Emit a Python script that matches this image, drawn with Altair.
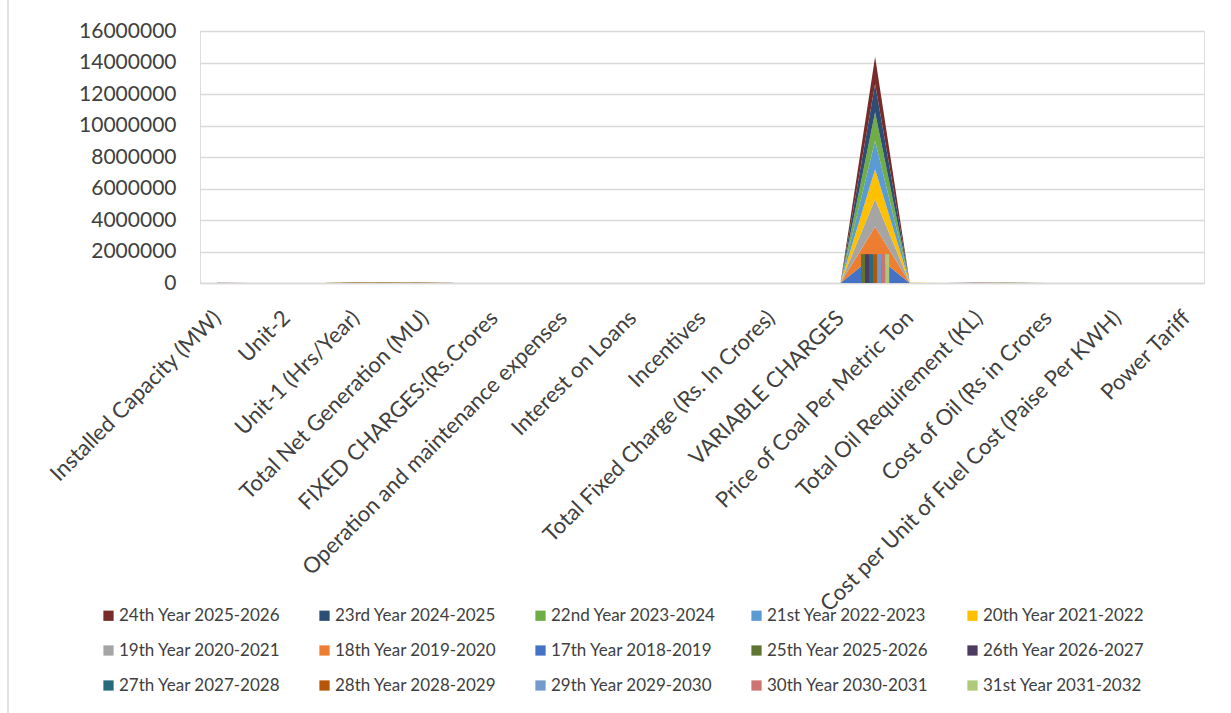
import altair as alt
import pandas as pd

# ---- categories (x axis); only every other label is printed, as in the reference
categories = [
    "Installed Capacity (MW)", "Unit-1", "Unit-2", "Operating Hours",
    "Unit-1 (Hrs/Year)", "Unit-2 (Hrs/Year)", "Total Net Generation (MU)",
    "Auxiliary Consumption (MU)", "FIXED CHARGES:(Rs.Crores", "Return on Equity",
    "Operation and maintenance expenses", "Depreciation", "Interest on Loans",
    "Interest on Working Capital", "Incentives", "Income Tax",
    "Total Fixed Charge (Rs. In Crores)", "Fixed Charge (Paise Per KWH)",
    "VARIABLE CHARGES", "Total Coal Requirement (Metric Ton)",
    "Price of Coal Per Metric Ton", "Cost of Coal (Rs in Crores",
    "Total Oil Requirement (KL)", "Price of Oil Per KL", "Cost of Oil (Rs in Crores",
    "Total Fuel Cost (Rs in Crores", "Cost per Unit of Fuel Cost (Paise Per KWH)",
    "Fixed Cost per Unit (Paise Per KWH)", "Power Tariff",
]
tick_labels = [
    "Installed Capacity (MW)", "Unit-2", "Unit-1 (Hrs/Year)", "Total Net Generation (MU)",
    "FIXED CHARGES:(Rs.Crores", "Operation and maintenance expenses", "Interest on Loans",
    "Incentives", "Total Fixed Charge (Rs. In Crores)", "VARIABLE CHARGES",
    "Price of Coal Per Metric Ton", "Total Oil Requirement (KL)", "Cost of Oil (Rs in Crores",
    "Cost per Unit of Fuel Cost (Paise Per KWH)", "Power Tariff",
]

# ---- stacked area series (bottom to top)
area_series = [
    "17th Year 2018-2019", "18th Year 2019-2020", "19th Year 2020-2021",
    "20th Year 2021-2022", "21st Year 2022-2023", "22nd Year 2023-2024",
    "23rd Year 2024-2025", "24th Year 2025-2026",
]
# ---- clustered bar series
bar_series = [
    "25th Year 2025-2026", "26th Year 2026-2027", "27th Year 2027-2028",
    "28th Year 2028-2029", "29th Year 2029-2030", "30th Year 2030-2031",
    "31st Year 2031-2032",
]

v17 = [1000, 500, 500, 0, 7446, 7446, 6522, 0, 0, 262, 318, 0, 205, 30, 0, 48, 812, 0, 0, 1780000, 2150, 383, 3200, 4100, 131, 514, 178, 125, 303]
v18 = [1000, 500, 500, 0, 7446, 7446, 6522, 0, 0, 262, 334, 0, 188, 31, 0, 48, 820, 0, 0, 1790000, 2260, 405, 3200, 4300, 138, 543, 189, 126, 315]
v19 = [1000, 500, 500, 0, 7446, 7446, 6522, 0, 0, 262, 351, 0, 171, 32, 0, 48, 829, 0, 0, 1760000, 2370, 417, 3200, 4500, 144, 561, 195, 127, 322]
v20 = [1000, 500, 500, 0, 7446, 7446, 6522, 0, 0, 262, 368, 0, 154, 33, 0, 48, 838, 0, 0, 1900000, 2490, 473, 3200, 4700, 150, 623, 217, 129, 346]
v21 = [1000, 500, 500, 0, 7446, 7446, 6522, 0, 0, 262, 387, 0, 137, 34, 0, 48, 848, 0, 0, 1800000, 2610, 470, 3200, 4900, 157, 627, 219, 130, 349]
v22 = [1000, 500, 500, 0, 7446, 7446, 6522, 0, 0, 262, 406, 0, 120, 35, 0, 48, 858, 0, 0, 1810000, 2740, 496, 3200, 5200, 166, 662, 231, 132, 363]
v23 = [1000, 500, 500, 0, 7446, 7446, 6522, 0, 0, 262, 426, 0, 103, 36, 0, 48, 868, 0, 0, 1800000, 2880, 518, 3200, 5400, 173, 691, 241, 133, 374]
v24 = [1000, 500, 500, 0, 7446, 7446, 6522, 0, 0, 262, 448, 0, 86, 37, 0, 48, 879, 0, 0, 1720000, 3020, 519, 3200, 5700, 182, 701, 245, 135, 380]

v25 = [1000, 500, 500, 0, 7446, 7446, 6522, 0, 0, 262, 470, 0, 69, 38, 0, 48, 891, 0, 0, 1830000, 3170, 580, 3200, 6000, 192, 772, 270, 137, 407]
v26 = [1000, 500, 500, 0, 7446, 7446, 6522, 0, 0, 262, 494, 0, 52, 39, 0, 48, 902, 0, 0, 1830000, 3330, 609, 3200, 6300, 202, 811, 284, 138, 422]
v27 = [1000, 500, 500, 0, 7446, 7446, 6522, 0, 0, 262, 518, 0, 35, 40, 0, 48, 914, 0, 0, 1830000, 3500, 640, 3200, 6600, 211, 851, 298, 140, 438]
v28 = [1000, 500, 500, 0, 7446, 7446, 6522, 0, 0, 262, 544, 0, 18, 41, 0, 48, 927, 0, 0, 1830000, 3670, 672, 3200, 6900, 221, 893, 313, 142, 455]
v29 = [1000, 500, 500, 0, 7446, 7446, 6522, 0, 0, 262, 571, 0, 0, 42, 0, 48, 940, 0, 0, 1830000, 3860, 706, 3200, 7300, 234, 940, 329, 144, 473]
v30 = [1000, 500, 500, 0, 7446, 7446, 6522, 0, 0, 262, 600, 0, 0, 43, 0, 48, 953, 0, 0, 1830000, 4050, 741, 3200, 7600, 243, 984, 345, 146, 491]
v31 = [1000, 500, 500, 0, 7446, 7446, 6522, 0, 0, 262, 630, 0, 0, 44, 0, 48, 967, 0, 0, 1830000, 4250, 778, 3200, 8000, 256, 1034, 362, 148, 510]

area_values = [v17, v18, v19, v20, v21, v22, v23, v24]
bar_values = [v25, v26, v27, v28, v29, v30, v31]

legend_order = [
    "24th Year 2025-2026", "23rd Year 2024-2025", "22nd Year 2023-2024",
    "21st Year 2022-2023", "20th Year 2021-2022",
    "19th Year 2020-2021", "18th Year 2019-2020", "17th Year 2018-2019",
    "25th Year 2025-2026", "26th Year 2026-2027",
    "27th Year 2027-2028", "28th Year 2028-2029", "29th Year 2029-2030",
    "30th Year 2030-2031", "31st Year 2031-2032",
]
legend_colors = [
    "#772C2A", "#2C4D75", "#70AD47", "#5B9BD5", "#FFC000",
    "#A5A5A5", "#ED7D31", "#4472C4", "#5F7530", "#4D3B62",
    "#276A7C", "#B65708", "#729ACA", "#CD7371", "#AFC97A",
]

y_ticks = [0, 2000000, 4000000, 6000000, 8000000, 10000000, 12000000, 14000000, 16000000]

# ---- long tables
area_rows = []
for rank, (name, vals) in enumerate(zip(area_series, area_values)):
    for cat, v in zip(categories, vals):
        area_rows.append({"category": cat, "series": name, "value": v, "rank": rank})
df_area = pd.DataFrame(area_rows)

bar_rows = []
for name, vals in zip(bar_series, bar_values):
    for cat, v in zip(categories, vals):
        bar_rows.append({"category": cat, "series": name, "value": v})
df_bar = pd.DataFrame(bar_rows)

FONT = "Lato"
TXT = "#404040"
GRID = "#D9D9D9"

x_scale = alt.Scale(domain=categories, paddingInner=0, paddingOuter=0)
x_axis = alt.Axis(
    values=tick_labels, labelAngle=-45, labelAlign="right", labelBaseline="middle",
    labelFont=FONT, labelFontSize=22, labelColor=TXT, labelPadding=31, labelLimit=600,
    ticks=False, domainColor=GRID, domainWidth=1.5, grid=False, labelOverlap=False,
)
y_scale = alt.Scale(domain=[0, 16000000], nice=False)
y_axis = alt.Axis(
    values=y_ticks, format="d", labelFont=FONT, labelFontSize=21, labelColor=TXT,
    labelPadding=24, ticks=False, domain=False, gridColor=GRID, gridWidth=1.5,
)
color = alt.Color(
    "series:N",
    scale=alt.Scale(domain=legend_order, range=legend_colors),
    legend=alt.Legend(
        title=None, orient="none", legendX=-100, legendY=576, direction="horizontal",
        columns=5, symbolType="square", symbolSize=105, symbolStrokeWidth=0,
        labelFont=FONT, labelFontSize=17, labelColor=TXT, labelOffset=2,
        columnPadding=32, rowPadding=17, gridAlign="all", labelLimit=400,
    ),
)

area = alt.Chart(df_area).mark_area(opacity=1).encode(
    x=alt.X("category:N", scale=x_scale, axis=x_axis, title=None),
    y=alt.Y("value:Q", stack="zero", scale=y_scale, axis=y_axis, title=None),
    color=color,
    order=alt.Order("rank:Q"),
)

bars = alt.Chart(df_bar).mark_bar().encode(
    x=alt.X("category:N", scale=x_scale, axis=x_axis, title=None),
    xOffset=alt.XOffset("series:N", scale=alt.Scale(domain=bar_series, paddingOuter=0.8, paddingInner=0)),
    y=alt.Y("value:Q", stack=None, scale=y_scale, axis=y_axis, title=None),
    color=color,
)

border = alt.Chart(pd.DataFrame({"v": [0]})).mark_rule(color=GRID, strokeWidth=1.5).encode(
    x=alt.value(-192), y=alt.value(-40), y2=alt.value(720)
)

chart = alt.layer(area, bars, border).properties(
    width=1004, height=252,
    autosize=alt.AutoSizeParams(type="none"),
    padding={"left": 200, "top": 31, "right": 27, "bottom": 430},
).configure_view(stroke=None).configure(background="white")

chart.save("out.html", embed_options={"renderer": "svg", "actions": False})
